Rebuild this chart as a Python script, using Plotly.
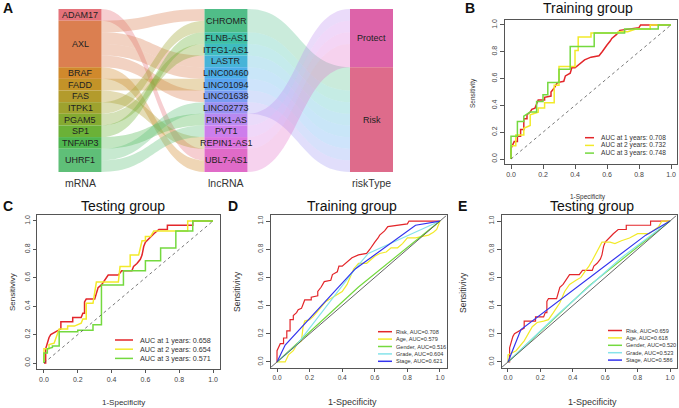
import plotly.graph_objects as go

W, H = 679, 408
FONT = "Liberation Sans, Arial, sans-serif"


def px(x):
    return x / W


def py(y):
    return 1 - y / H


def rgba(hex_color, a):
    h = hex_color.lstrip("#")
    r, g, b = int(h[0:2], 16), int(h[2:4], 16), int(h[4:6], 16)
    return f"rgba({r},{g},{b},{a})"


# ---------------------------------------------------------------- panel A data
mrna = ["ADAM17", "AXL", "BRAF", "FADD", "FAS", "ITPK1", "PGAM5", "SP1", "TNFAIP3", "UHRF1"]
mrna_colors = ["#E4727A", "#DB7F50", "#D0892C", "#C39328", "#B39B2C", "#9EA22E",
               "#85AA31", "#6BB137", "#4FB650", "#5FBF78"]
lncrna = ["CHROMR", "FLNB-AS1", "ITFG1-AS1", "LASTR", "LINC00460", "LINC01094",
          "LINC01638", "LINC02773", "PINK1-AS", "PVT1", "REPIN1-AS1", "UBL7-AS1"]
lncrna_colors = ["#50BD88", "#3FBFA6", "#3FBCC0", "#47B4D8", "#4CADE8", "#5CA5F1",
                 "#7B9CF2", "#9A92F2", "#B889F0", "#CD7EEC", "#DC74DF", "#E06BC8"]
risk_types = ["Protect", "Risk"]
risk_colors = ["#DD63A9", "#DE6B8B"]
mrna_lnc_links = [
    ("ADAM17", "UBL7-AS1"), ("AXL", "CHROMR"), ("AXL", "LASTR"), ("AXL", "LINC00460"),
    ("AXL", "LINC01638"), ("BRAF", "UBL7-AS1"), ("FADD", "LINC01094"),
    ("FAS", "REPIN1-AS1"), ("ITPK1", "CHROMR"), ("PGAM5", "ITFG1-AS1"),
    ("SP1", "FLNB-AS1"), ("TNFAIP3", "PINK1-AS"), ("UHRF1", "LINC02773"),
    ("UHRF1", "PVT1"),
]
lnc_risk = {
    "CHROMR": "Risk", "FLNB-AS1": "Risk", "ITFG1-AS1": "Risk", "LASTR": "Risk",
    "LINC00460": "Risk", "LINC01094": "Risk", "LINC01638": "Risk", "LINC02773": "Risk",
    "PINK1-AS": "Protect", "PVT1": "Protect", "REPIN1-AS1": "Protect", "UBL7-AS1": "Protect",
}
column_titles = ["mRNA", "lncRNA", "riskType"]

# ---------------------------------------------------------------- ROC data (FPR, TPR)
train_risk_roc = [(0, 0), (0, 0.08), (0.02, 0.13), (0.04, 0.13), (0.04, 0.17), (0.06, 0.17),
                  (0.06, 0.22), (0.08, 0.22), (0.08, 0.30), (0.10, 0.30), (0.10, 0.33),
                  (0.12, 0.35), (0.13, 0.37), (0.15, 0.38), (0.16, 0.41), (0.17, 0.44),
                  (0.21, 0.44), (0.21, 0.46), (0.25, 0.47), (0.25, 0.50), (0.27, 0.53),
                  (0.28, 0.55), (0.29, 0.57), (0.33, 0.58), (0.34, 0.62), (0.37, 0.64),
                  (0.38, 0.68), (0.40, 0.68), (0.42, 0.70), (0.44, 0.72), (0.46, 0.74),
                  (0.50, 0.76), (0.55, 0.77), (0.57, 0.80), (0.58, 0.82), (0.60, 0.85),
                  (0.62, 0.88), (0.63, 0.90), (0.66, 0.93), (0.68, 0.96), (0.80, 0.98),
                  (0.81, 1.0), (1, 1)]
train_2y_roc = [(0, 0), (0, 0.10), (0.03, 0.10), (0.03, 0.18), (0.08, 0.18), (0.08, 0.23),
                (0.12, 0.25), (0.12, 0.33), (0.17, 0.35), (0.17, 0.38), (0.21, 0.38),
                (0.21, 0.42), (0.27, 0.42), (0.27, 0.55), (0.30, 0.55), (0.30, 0.69),
                (0.40, 0.69), (0.40, 0.81), (0.42, 0.81), (0.42, 0.91), (0.50, 0.91),
                (0.50, 0.94), (0.67, 0.94), (0.67, 0.95), (0.73, 0.95), (0.78, 0.97),
                (0.87, 0.97), (0.87, 1.0), (1, 1)]
train_3y_roc = [(0, 0), (0, 0.17), (0.04, 0.17), (0.04, 0.28), (0.08, 0.28), (0.08, 0.32),
                (0.12, 0.35), (0.16, 0.35), (0.16, 0.43), (0.20, 0.43), (0.20, 0.48),
                (0.23, 0.48), (0.23, 0.57), (0.30, 0.57), (0.30, 0.67), (0.37, 0.67),
                (0.37, 0.84), (0.52, 0.84), (0.52, 0.94), (0.71, 0.94), (0.71, 0.97),
                (0.92, 0.97), (0.92, 1.0), (1, 1)]
test_risk_roc = [(0, 0), (0.01, 0), (0.01, 0.10), (0.03, 0.18), (0.04, 0.20), (0.07, 0.22),
                 (0.10, 0.24), (0.10, 0.29), (0.17, 0.29), (0.17, 0.32), (0.22, 0.32),
                 (0.23, 0.35), (0.24, 0.35), (0.24, 0.43), (0.25, 0.45), (0.30, 0.45),
                 (0.31, 0.50), (0.32, 0.53), (0.34, 0.55), (0.35, 0.57), (0.37, 0.60),
                 (0.38, 0.62), (0.44, 0.62), (0.46, 0.65), (0.52, 0.65), (0.53, 0.68),
                 (0.55, 0.70), (0.57, 0.73), (0.58, 0.76), (0.59, 0.82), (0.60, 0.85),
                 (0.63, 0.89), (0.65, 0.91), (0.68, 0.94), (0.73, 0.94), (0.73, 0.97),
                 (0.88, 0.97), (0.88, 1.0), (1, 1)]
test_2y_roc = [(0, 0), (0, 0.10), (0.03, 0.10), (0.03, 0.13), (0.06, 0.14), (0.08, 0.20),
               (0.09, 0.24), (0.14, 0.24), (0.14, 0.26), (0.18, 0.26), (0.22, 0.28),
               (0.23, 0.31), (0.25, 0.31), (0.25, 0.42), (0.29, 0.42), (0.31, 0.57),
               (0.44, 0.57), (0.45, 0.68), (0.51, 0.68), (0.51, 0.76), (0.56, 0.76),
               (0.58, 0.86), (0.60, 0.86), (0.60, 0.89), (0.63, 0.89), (0.65, 0.93),
               (0.85, 0.93), (0.85, 1.0), (1, 1)]
test_3y_roc = [(0, 0), (0, 0.07), (0.02, 0.07), (0.02, 0.10), (0.05, 0.11), (0.05, 0.12),
               (0.09, 0.12), (0.09, 0.22), (0.20, 0.22), (0.20, 0.23), (0.29, 0.23),
               (0.29, 0.27), (0.34, 0.27), (0.34, 0.55), (0.47, 0.55), (0.47, 0.65),
               (0.60, 0.65), (0.60, 0.72), (0.69, 0.72), (0.69, 0.81), (0.78, 0.81),
               (0.78, 0.93), (0.88, 0.93), (0.88, 1.0), (1, 1)]
train_age_roc = [(0, 0), (0.02, 0), (0.05, 0), (0.07, 0.05), (0.10, 0.08), (0.12, 0.12),
                 (0.15, 0.15), (0.16, 0.25), (0.17, 0.29), (0.20, 0.30), (0.22, 0.32),
                 (0.25, 0.36), (0.28, 0.40), (0.30, 0.43), (0.33, 0.45), (0.36, 0.47),
                 (0.40, 0.50), (0.43, 0.55), (0.45, 0.60), (0.47, 0.66), (0.50, 0.70),
                 (0.55, 0.70), (0.57, 0.72), (0.60, 0.75), (0.63, 0.77), (0.67, 0.78),
                 (0.70, 0.81), (0.74, 0.81), (0.77, 0.84), (0.80, 0.88), (0.85, 0.88),
                 (0.90, 0.89), (0.93, 0.90), (0.96, 0.92), (0.98, 0.94), (1, 1)]
train_gender_roc = [(0, 0), (0.50, 0.532), (1, 1)]
train_grade_roc = [(0, 0), (0.12, 0.12), (0.48, 0.66), (0.56, 0.77), (1, 1)]
train_stage_roc = [(0, 0), (0.05, 0.12), (0.48, 0.66), (0.85, 0.97), (1, 1)]
test_age_roc = [(0, 0), (0, 0.05), (0.05, 0.08), (0.10, 0.15), (0.15, 0.25), (0.18, 0.28),
                (0.22, 0.29), (0.25, 0.30), (0.28, 0.35), (0.32, 0.42), (0.35, 0.50),
                (0.38, 0.55), (0.42, 0.58), (0.45, 0.60), (0.48, 0.65), (0.50, 0.68),
                (0.52, 0.72), (0.55, 0.78), (0.58, 0.85), (0.63, 0.85), (0.66, 0.84),
                (0.70, 0.86), (0.75, 0.88), (0.80, 0.91), (0.87, 0.91), (0.93, 0.96),
                (0.95, 1.0), (1, 1)]
test_gender_roc = [(0, 0), (0.50, 0.54), (1, 1)]
test_grade_roc = [(0, 0), (0.30, 0.33), (0.70, 0.74), (1, 1)]
test_stage_roc = [(0, 0), (0.08, 0.23), (0.85, 0.90), (1, 1)]

ticks = [0, 0.2, 0.4, 0.6, 0.8, 1.0]
tick_labels = ["0.0", "0.2", "0.4", "0.6", "0.8", "1.0"]

RED, YEL, GRN, CYA, BLU = "#E3262A", "#F2EA2A", "#74D93F", "#86E3EA", "#3434EE"

fig = go.Figure()

# ---------------------------------------------------------------- panel A sankey
nodes = mrna + lncrna + risk_types
node_colors = mrna_colors + lncrna_colors + risk_colors
idx = {n: i for i, n in enumerate(nodes)}
lnc_count = {l: sum(1 for _, t in mrna_lnc_links if t == l) for l in lncrna}
mrna_count = {m: sum(1 for s, _ in mrna_lnc_links if s == m) for m in mrna}
risk_count = {r: sum(lnc_count[l] for l in lncrna if lnc_risk[l] == r) for r in risk_types}

src, tgt, val, lcol = [], [], [], []
for m, l in mrna_lnc_links:
    src.append(idx[m]); tgt.append(idx[l]); val.append(1)
    lcol.append(rgba(mrna_colors[mrna.index(m)], 0.35))
for l in lncrna:
    src.append(idx[l]); tgt.append(idx[lnc_risk[l]]); val.append(lnc_count[l])
    lcol.append(rgba(lncrna_colors[lncrna.index(l)], 0.30))

SX0, SX1, SY0, SY1 = 58, 393, 9, 172
col_centers = [80, 226, 371.5]
total = len(mrna_lnc_links)
node_x, node_y, label_pos = [], [], []
for ci, (names, counts) in enumerate([(mrna, mrna_count), (lncrna, lnc_count),
                                      (risk_types, risk_count)]):
    cum = 0
    for n in names:
        c = (cum + counts[n] / 2) / total
        cum += counts[n]
        node_x.append((col_centers[ci] - SX0) / (SX1 - SX0))
        node_y.append(c)
        label_pos.append((col_centers[ci], SY0 + c * (SY1 - SY0), n))

fig.add_trace(go.Sankey(
    domain=dict(x=[px(SX0), px(SX1)], y=[py(SY1), py(SY0)]),
    arrangement="fixed",
    node=dict(label=[""] * len(nodes), color=node_colors, pad=0, thickness=43,
              line=dict(width=0), x=node_x, y=node_y),
    link=dict(source=src, target=tgt, value=val, color=lcol),
    hoverinfo="skip",
))

annotations = []
for x, y, n in label_pos:
    annotations.append(dict(x=px(x), y=py(y), xref="paper", yref="paper", text=n,
                            showarrow=False, font=dict(size=9, color="#222", family=FONT),
                            xanchor="center", yanchor="middle"))
for x, t in zip(col_centers, column_titles):
    annotations.append(dict(x=px(x), y=py(183), xref="paper", yref="paper", text=t,
                            showarrow=False, font=dict(size=10.5, color="#333", family=FONT),
                            xanchor="center", yanchor="middle"))

# ---------------------------------------------------------------- ROC panels
panels = [
    dict(n="", frame=(504.6, 677.4, 19.6, 164.4), tf=7, title="Training group", tpos=(588, 8),
         xl=(588, 197, 6.5), yl=("Sensitivity", 473, 93, 6.5),
         curves=[(train_risk_roc, RED), (train_2y_roc, YEL), (train_3y_roc, GRN)],
         lw=1.5, diag="dash",
         legend=[("AUC at 1 years: 0.708", RED), ("AUC at 2 years: 0.732", YEL),
                 ("AUC at 3 years: 0.748", GRN)],
         lpos=(585, 594, 599, 137.7, 7.7, 6.6)),
    dict(n="2", frame=(37.2, 219.8, 215.3, 368.7), tf=7, title="Testing group", tpos=(123, 206),
         xl=(123, 402, 8), yl=("Sensitivivy", 12, 292, 8),
         curves=[(test_risk_roc, RED), (test_2y_roc, YEL), (test_3y_roc, GRN)],
         lw=1.5, diag="dash",
         legend=[("AUC at 1 years: 0.658", RED), ("AUC at 2 years: 0.654", YEL),
                 ("AUC at 3 years: 0.571", GRN)],
         lpos=(115, 133, 138, 340, 9.2, 7.2)),
    dict(n="3", frame=(270.5, 446.5, 215.4, 367.6), tf=6.5, title="Training group",
         tpos=(352, 206), xl=(352, 402, 9), yl=("Sensitivivy", 237, 292, 8.5),
         curves=[(train_risk_roc, RED), (train_age_roc, YEL), (train_gender_roc, GRN),
                 (train_grade_roc, CYA), (train_stage_roc, BLU)],
         lw=1.2, diag="solid",
         legend=[("Risk, AUC=0.708", RED), ("Age, AUC=0.579", YEL),
                 ("Gender, AUC=0.516", GRN), ("Grade, AUC=0.604", CYA),
                 ("Stage, AUC=0.621", BLU)],
         lpos=(378, 392, 394, 331.7, 7.4, 5.6)),
    dict(n="4", frame=(501.5, 676.5, 215.4, 367.6), tf=6.5, title="Testing group",
         tpos=(592, 206), xl=(592, 402, 9), yl=("Sensitivivy", 463, 293, 8.5),
         curves=[(test_risk_roc, RED), (test_age_roc, YEL), (test_gender_roc, GRN),
                 (test_grade_roc, CYA), (test_stage_roc, BLU)],
         lw=1.2, diag="solid",
         legend=[("Risk, AUC=0.659", RED), ("Age, AUC=0.618", YEL),
                 ("Gender, AUC=0.520", GRN), ("Grade, AUC=0.523", CYA),
                 ("Stage, AUC=0.586", BLU)],
         lpos=(608, 622, 624, 330.5, 7.4, 5.6)),
]

shapes = []
layout_axes = {}
for p in panels:
    n = p["n"]
    l, r, t, b = p["frame"]
    axstyle = dict(range=[-0.04, 1.04], showgrid=False, zeroline=False, showline=True,
                   mirror=True, linecolor="#555", linewidth=1, ticks="outside", ticklen=3.5,
                   tickwidth=1, tickcolor="#555", tickvals=ticks, ticktext=tick_labels,
                   tickfont=dict(size=p["tf"], color="#444", family=FONT), fixedrange=True)
    layout_axes["xaxis" + n] = dict(domain=[px(l), px(r)], anchor="y" + n, **axstyle)
    layout_axes["yaxis" + n] = dict(domain=[py(b), py(t)], anchor="x" + n, tickangle=-90,
                                    **axstyle)
    if p["diag"] == "dash":
        shapes.append(dict(type="line", xref="x" + n, yref="y" + n, x0=0, y0=0, x1=1, y1=1,
                           line=dict(color="#555", width=0.8, dash="dot")))
    else:
        shapes.append(dict(type="line", xref="x" + n, yref="y" + n, x0=-0.04, y0=-0.04,
                           x1=1.04, y1=1.04, line=dict(color="#555", width=0.9)))
    for data, color in p["curves"]:
        fig.add_trace(go.Scatter(x=[d[0] for d in data], y=[d[1] for d in data],
                                 xaxis="x" + n, yaxis="y" + n, mode="lines",
                                 line=dict(color=color, width=p["lw"]),
                                 showlegend=False, hoverinfo="skip"))
    annotations.append(dict(x=px(p["tpos"][0]), y=py(p["tpos"][1]), xref="paper",
                            yref="paper", text=p["title"], showarrow=False,
                            font=dict(size=14, color="#111", family=FONT),
                            xanchor="center", yanchor="middle"))
    xlx, xly, xls = p["xl"]
    annotations.append(dict(x=px(xlx), y=py(xly), xref="paper", yref="paper",
                            text="1-Specificity", showarrow=False,
                            font=dict(size=xls, color="#333", family=FONT),
                            xanchor="center", yanchor="middle"))
    ylt, ylx, yly, yls = p["yl"]
    annotations.append(dict(x=px(ylx), y=py(yly), xref="paper", yref="paper", text=ylt,
                            showarrow=False, textangle=-90,
                            font=dict(size=yls, color="#333", family=FONT),
                            xanchor="center", yanchor="middle"))
    lx0, lx1, tx, ly0, dy, fs = p["lpos"]
    for i, (txt, color) in enumerate(p["legend"]):
        yy = ly0 + i * dy
        shapes.append(dict(type="line", xref="paper", yref="paper", x0=px(lx0), x1=px(lx1),
                           y0=py(yy), y1=py(yy), line=dict(color=color, width=1.5)))
        annotations.append(dict(x=px(tx), y=py(yy), xref="paper", yref="paper", text=txt,
                                showarrow=False, font=dict(size=fs, color="#333", family=FONT),
                                xanchor="left", yanchor="middle"))

for letter, x, y in [("A", 8, 8), ("B", 470, 8), ("C", 8, 206), ("D", 233, 206),
                     ("E", 462, 206)]:
    annotations.append(dict(x=px(x), y=py(y), xref="paper", yref="paper",
                            text=f"<b>{letter}</b>", showarrow=False,
                            font=dict(size=14, color="#111", family=FONT),
                            xanchor="center", yanchor="middle"))

fig.update_layout(
    width=W, height=H, margin=dict(l=0, r=0, t=0, b=0),
    paper_bgcolor="white", plot_bgcolor="white", showlegend=False,
    annotations=annotations, shapes=shapes, font=dict(family=FONT),
    **layout_axes,
)

fig.write_html(
    "out.html",
    config={"displayModeBar": False, "staticPlot": True},
    post_script="document.body.style.margin='0px';document.body.style.overflow='hidden';",
)
